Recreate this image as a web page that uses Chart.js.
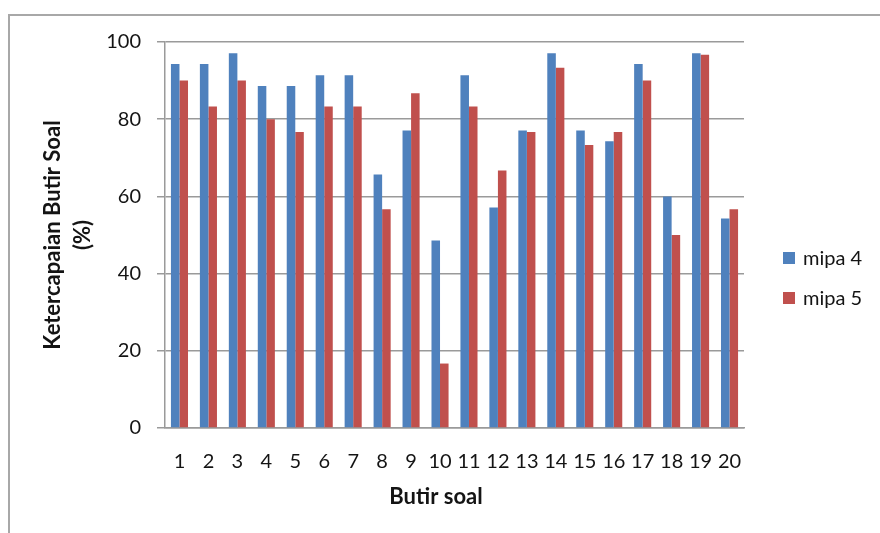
<!DOCTYPE html>
<html>
<head>
<meta charset="utf-8">
<script src="https://cdn.jsdelivr.net/npm/chart.js@4"></script>
<style>
    html, body { margin: 0; padding: 0; background: #fff; }
    #wrap { width: 880px; height: 533px; }
</style>
</head>
<body>
<div id="wrap"><canvas id="myChart" width="880" height="533"></canvas></div>
<script>
// data
const categories = ['1', '2', '3', '4', '5', '6', '7', '8', '9', '10',
    '11', '12', '13', '14', '15', '16', '17', '18', '19', '20'];
const mipa4 = [94.3, 94.3, 97.1, 88.6, 88.6, 91.4, 91.4, 65.7, 77.1, 48.6,
    91.4, 57.1, 77.1, 97.1, 77.1, 74.3, 94.3, 60.0, 97.1, 54.3];
const mipa5 = [90.0, 83.3, 90.0, 80.0, 76.7, 83.3, 83.3, 56.7, 86.7, 16.7,
    83.3, 66.7, 76.7, 93.3, 73.3, 76.7, 90.0, 50.0, 96.7, 56.7];
const yTicks = [0, 20, 40, 60, 80, 100];
const xTitle = 'Butir soal';

const fontName = 'Lato';
const textColor = '#141414';
const gridColor = '#9a9a9a';

// chart-area frame (top and left edge like the pasted Excel chart)
const framePlugin = {
    id: 'frame',
    beforeDraw(chart) {
        const ctx = chart.ctx;
        ctx.save();
        ctx.strokeStyle = '#a8a8a8';
        ctx.lineWidth = 2;
        ctx.beginPath();
        ctx.moveTo(9, 533);
        ctx.lineTo(9, 15);
        ctx.lineTo(880, 15);
        ctx.stroke();
        ctx.restore();
    }
};

// legend on the right and the x title, drawn from the chart config
const legendPlugin = {
    id: 'sideLegend',
    afterDraw(chart) {
        const ctx = chart.ctx;
        ctx.save();
        ctx.font = '20px ' + fontName;
        ctx.textBaseline = 'middle';
        chart.data.datasets.forEach((ds, i) => {
            const y = 258 + i * 40;
            ctx.fillStyle = ds.backgroundColor;
            ctx.fillRect(783, y - 6, 12, 12);
            ctx.fillStyle = textColor;
            ctx.fillText(ds.label, 803, y + 1);
        });
        ctx.font = 'bold 22px ' + fontName;
        ctx.textAlign = 'center';
        ctx.fillText(xTitle, 436, 497);
        ctx.restore();
    }
};

const ctx = document.getElementById('myChart').getContext('2d');
new Chart(ctx, {
    type: 'bar',
    data: {
        labels: categories,
        datasets: [{
            label: 'mipa 4',
            data: mipa4,
            backgroundColor: '#4f81bd',
            categoryPercentage: 0.59,
            barPercentage: 1.0
        },
        {
            label: 'mipa 5',
            data: mipa5,
            backgroundColor: '#c0504d',
            categoryPercentage: 0.59,
            barPercentage: 1.0
        }]
    },
    options: {
        responsive: false,
        animation: false,
        layout: {
            padding: { top: 42, right: 136, left: 0, bottom: 0 }
        },
        plugins: {
            legend: { display: false },
            tooltip: { enabled: false }
        },
        scales: {
            x: {
                afterFit: s => { s.height = 105; },
                grid: { display: false, drawTicks: false },
                border: { display: true, color: gridColor, width: 1.5 },
                ticks: {
                    color: textColor,
                    font: { family: fontName, size: 20 },
                    padding: 22,
                    maxRotation: 0,
                    autoSkip: false
                }
            },
            y: {
                min: 0,
                max: 100,
                afterFit: s => { s.width = 165; },
                afterBuildTicks: s => { s.ticks = yTicks.map(v => ({ value: v })); },
                grid: { color: gridColor, lineWidth: 1.5, tickLength: 8 },
                border: { display: true, color: gridColor, width: 1.5 },
                ticks: {
                    color: textColor,
                    font: { family: fontName, size: 20 },
                    padding: 16
                },
                title: {
                    display: true,
                    text: ['Ketercapaian Butir Soal', '(%)'],
                    color: textColor,
                    font: { family: fontName, size: 22, weight: 'bold', lineHeight: 1.35 },
                    padding: { top: 38 }
                }
            }
        }
    },
    plugins: [framePlugin, legendPlugin]
});
</script>
</body>
</html>
